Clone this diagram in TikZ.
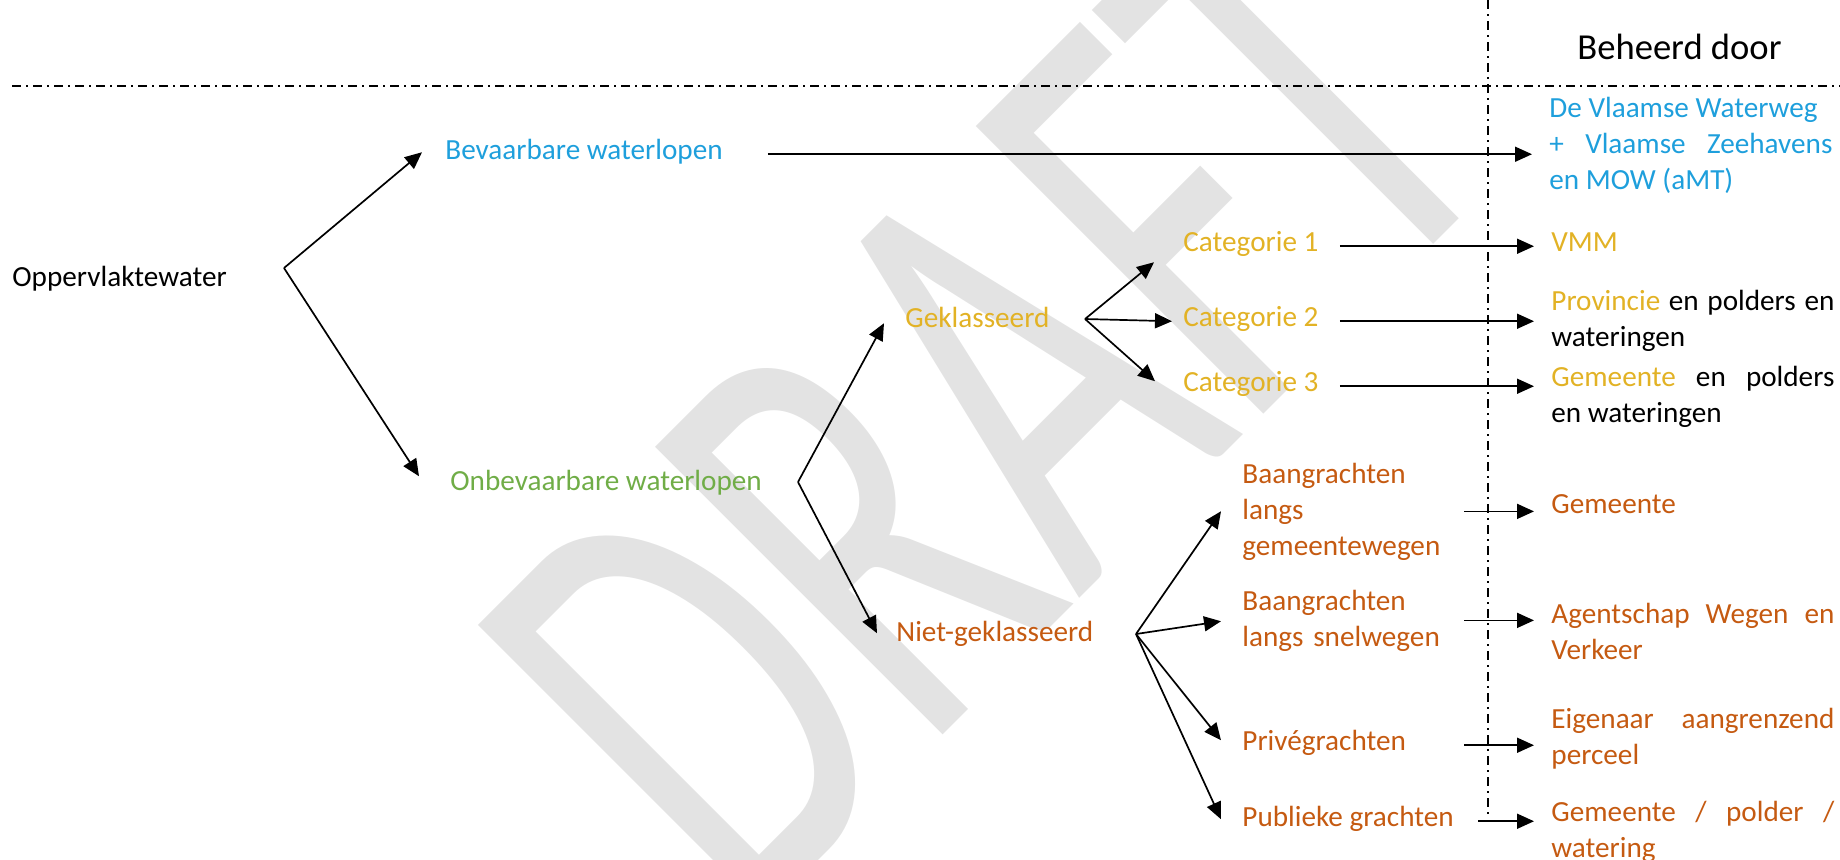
\documentclass[tikz,border=0pt]{standalone}
\usepackage{fontspec}
\setmainfont{Carlito}
\usepackage{graphicx}
\usetikzlibrary{arrows.meta}
\definecolor{WBlue}{HTML}{1E9FDC}
\definecolor{WGreen}{HTML}{70AD47}
\definecolor{WGold}{HTML}{E2B225}
\definecolor{WOrange}{HTML}{C55A11}
\definecolor{WGrey}{HTML}{E3E3E3}
\hyphenpenalty=10000
\exhyphenpenalty=10000
\tolerance=9999
\tikzset{
  waterlbl/.style={inner sep=0pt, anchor=base west, align=left, font=\fontsize{14.6}{18}\selectfont},
  ditchlbl/.style={waterlbl, text=WOrange, text width=112pt, align=left},
  beheerlbl/.style={waterlbl, text width=141.5pt, align=justify},
  splitarrow/.style={-{Triangle[length=8.5pt,width=7.5pt]}, line width=0.85pt},
  tobeheer/.style={splitarrow, shorten >=8.5pt},
  sepline/.style={line width=0.75pt, dash pattern=on 4.5pt off 2.5pt on 1pt off 2.5pt},
  watermark/.style={inner sep=0pt, anchor=base, rotate=45, text=WGrey, font=\fontsize{317}{317}\selectfont},
}
\begin{document}
\begin{tikzpicture}[x=0.5pt,y=-0.5pt]
    \useasboundingbox (0,0) rectangle (1840,859);
    \clip (0,0) rectangle (1840,859);
    \node[watermark] (Draft) at (1131,547) {\scalebox{0.64}[1]{DRAFT}};
    \draw[sepline] (12,86) -- (1840,86);
    \draw[sepline] (1488,0) -- (1488,818);
    \node[waterlbl, font=\fontsize{18.3}{22}\selectfont] (Head) at (1577,59) {Beheerd door};
    \node[waterlbl] (Opp) at (12,286) {Oppervlaktewater};
    \node[waterlbl, text=WBlue] (Bev) at (445,159) {Bevaarbare waterlopen};
    \node[waterlbl, text=WGreen] (Onb) at (450,490) {Onbevaarbare waterlopen};
    \node[waterlbl, text=WGold] (Gek) at (905,327) {Geklasseerd};
    \node[waterlbl, text=WGold] (Cat1) at (1183,251) {Categorie 1};
    \node[waterlbl, text=WGold] (Cat2) at (1183,326) {Categorie 2};
    \node[waterlbl, text=WGold] (Cat3) at (1183,391) {Categorie 3};
    \node[waterlbl, text=WOrange] (Niet) at (896,641) {Niet-geklasseerd};
    \node[ditchlbl] (Bgw) at (1242,483) {Baangrachten\\langs\\gemeentewegen};
    \node[ditchlbl] (Bsn) at (1242,610) {Baangrachten\\langs snelwegen};
    \node[ditchlbl] (Priv) at (1242,750) {Privégrachten};
    \node[waterlbl, text=WOrange] (Pub) at (1242,826) {Publieke grachten};
    \node[beheerlbl, text=WBlue] (Vww) at (1549,117) {De Vlaamse Waterweg\newline + Vlaamse Zeehavens en MOW (aMT)};
    \node[beheerlbl, text=WGold] (Vmm) at (1551,251) {VMM};
    \node[beheerlbl] (Prov) at (1551,310) {\textcolor{WGold}{Provincie} en polders en wateringen};
    \node[beheerlbl] (Gem3) at (1551,386) {\textcolor{WGold}{Gemeente} en polders en wateringen};
    \node[beheerlbl, text=WOrange] (GemB) at (1551,513) {Gemeente};
    \node[beheerlbl, text=WOrange] (Awv) at (1551,623) {Agentschap Wegen en Verkeer};
    \node[beheerlbl, text=WOrange] (Eig) at (1551,728) {Eigenaar aangrenzend perceel};
    \node[beheerlbl, text=WOrange] (Gpw) at (1551,821) {Gemeente / polder / watering};
    \coordinate (F1) at (284,268);
    \coordinate (F2) at (798,482);
    \coordinate (F3) at (1085,319);
    \coordinate (F4) at (1136,634);
    \coordinate (Gx) at (1464,0);
    \draw[splitarrow] (F1) -- ([shift={(-23,-2)}]Bev.mid west);
    \draw[splitarrow] (F1) -- ([shift={(-31,-9)}]Onb.mid west);
    \draw[splitarrow] (F2) -- ([shift={(-21,1)}]Gek.mid west);
    \draw[splitarrow] (F2) -- ([shift={(-19,-3)}]Niet.mid west);
    \draw[splitarrow] (F3) -- ([shift={(-29,16)}]Cat1.mid west);
    \draw[splitarrow] (F3) -- ([shift={(-11,0)}]Cat2.mid west);
    \draw[splitarrow] (F3) -- ([shift={(-28,-5)}]Cat3.mid west);
    \draw[splitarrow] (F4) -- ([shift={(-21,33)}]Bgw.mid west);
    \draw[splitarrow] (F4) -- ([shift={(-21,16)}]Bsn.mid west);
    \draw[splitarrow] (F4) -- ([shift={(-21,-5)}]Priv.mid west);
    \draw[splitarrow] (F4) -- ([shift={(-21,-2)}]Pub.mid west);
    \draw[tobeheer, shorten <=22.5pt] (Bev.mid east) -- (Bev.mid east -| Vww.west);
    \draw[tobeheer, shorten <=10.5pt] (Cat1.mid east) -- (Cat1.mid east -| Vmm.west);
    \draw[tobeheer, shorten <=10.5pt] (Cat2.mid east) -- (Cat2.mid east -| Prov.west);
    \draw[tobeheer, shorten <=10.5pt] (Cat3.mid east) -- (Cat3.mid east -| Gem3.west);
    \draw[tobeheer] (Bgw.west -| Gx) -- (Bgw.west -| GemB.west);
    \draw[tobeheer] (Bsn.west -| Gx) -- (Bsn.west -| Awv.west);
    \draw[tobeheer] (Priv.mid west -| Gx) -- (Priv.mid west -| Eig.west);
    \draw[tobeheer, shorten <=12pt] (Pub.mid east) -- (Pub.mid east -| Gpw.west);
  \end{tikzpicture}
\end{document}
